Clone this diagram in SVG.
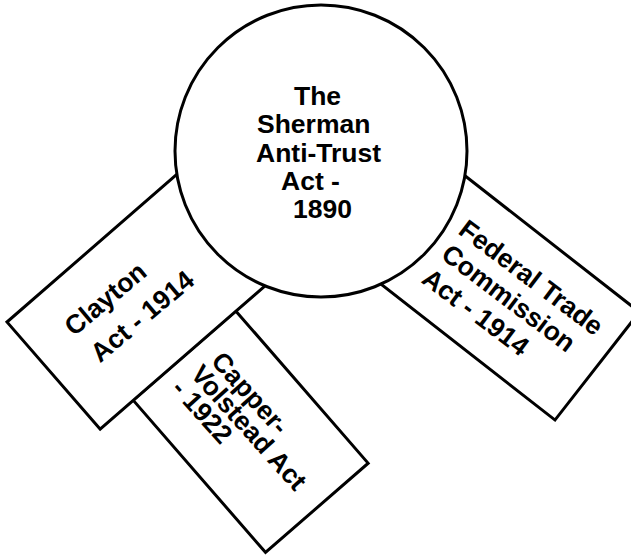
<svg xmlns="http://www.w3.org/2000/svg" width="631" height="559" viewBox="0 0 631 559">
<style>
.box{fill:#fff;stroke:#000;stroke-width:3;stroke-linejoin:miter}
.t{font-family:"Liberation Sans",Arial,Helvetica,sans-serif;font-weight:bold;font-size:26.5px;fill:#000}
</style>
<rect width="631" height="559" fill="#fff"/>
<g id="connectors"></g>
<g id="capper">
<rect class="box" transform="translate(133,400) rotate(-41)" x="0" y="0" width="136" height="202"/>
<g transform="translate(210,362) rotate(48)">
<text class="t" x="0" y="0">Capper-</text>
<text class="t" x="-4" y="24">Volstead Act</text>
<text class="t" x="-6" y="48">- 1922</text>
</g>
</g>
<g id="clayton">
<rect class="box" transform="translate(7,322) rotate(-41)" x="0" y="0" width="260" height="142"/>
<g transform="translate(74,337) rotate(-40)">
<text class="t" x="0" y="0">Clayton</text>
<text class="t" x="3" y="37">Act - 1914</text>
</g>
</g>
<g id="ftc">
<rect class="box" transform="translate(555,420) rotate(38)" x="-260" y="-137" width="260" height="137"/>
<g transform="translate(457,233) rotate(37)">
<text class="t" x="0" y="0">Federal Trade</text>
<text class="t" x="1" y="30">Commission</text>
<text class="t" x="0" y="61">Act - 1914</text>
</g>
</g>
<g id="sherman">
<circle class="box" cx="321" cy="151" r="146"/>
<text class="t" x="294" y="105">The</text>
<text class="t" x="257" y="133">Sherman</text>
<text class="t" x="256" y="162">Anti-Trust</text>
<text class="t" x="281" y="190">Act -</text>
<text class="t" x="293" y="218">1890</text>
</g>
</svg>
